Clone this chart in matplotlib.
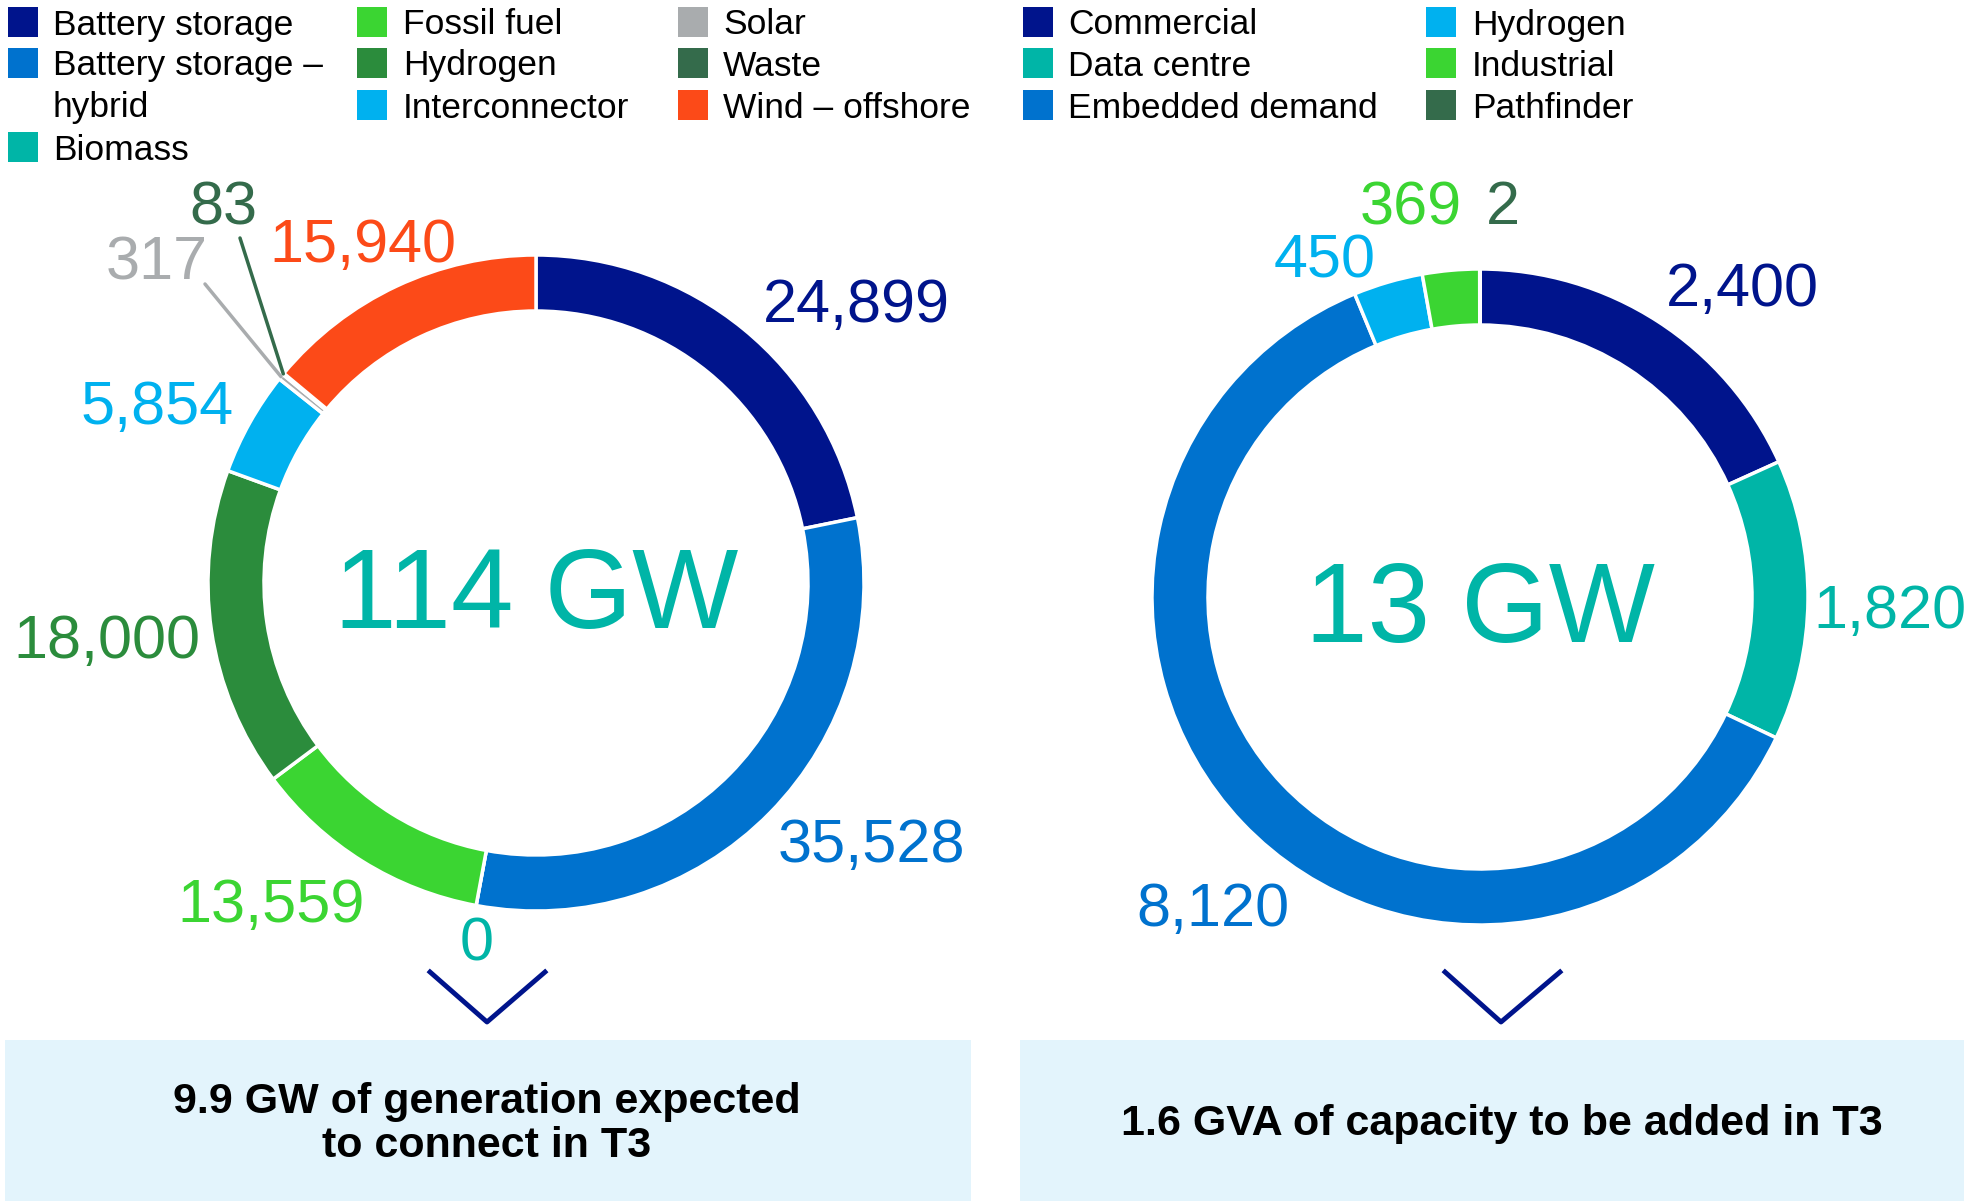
import numpy as np
import matplotlib.pyplot as plt
from matplotlib.patches import Rectangle

plt.rcParams['font.family'] = ['Liberation Sans', 'DejaVu Sans']

W, H = 1965, 1201

# generation by technology (MW)
gen_labels = ["Battery storage", "Battery storage –\nhybrid", "Biomass", "Fossil fuel",
              "Hydrogen", "Interconnector", "Solar", "Waste", "Wind – offshore"]
gen_values = [24899, 35528, 0, 13559, 18000, 5854, 317, 83, 15940]
gen_total = "114 GW"
gen_note = "9.9 GW of generation expected\nto connect in T3"

# demand by type (MW)
dem_labels = ["Commercial", "Data centre", "Embedded demand", "Hydrogen", "Industrial", "Pathfinder"]
dem_values = [2400, 1820, 8120, 450, 369, 2]
dem_total = "13 GW"
dem_note = "1.6 GVA of capacity to be added in T3"

NAVY, BLUE, TEAL = '#00148C', '#0072CE', '#00B5A7'
LIME, GREEN, SKY = '#3BD532', '#2B8C3C', '#00B1EF'
GREY, DKGREEN, ORANGE = '#A9ACAE', '#346B4B', '#FC4A18'
gen_colors = [NAVY, BLUE, TEAL, LIME, GREEN, SKY, GREY, DKGREEN, ORANGE]
dem_colors = [NAVY, TEAL, BLUE, SKY, LIME, DKGREEN]

# layout, in pixels from top-left
gen_center, dem_center = (536, 583), (1480, 597)
R, RING = 328, 56
gen_label_pos = [(856, 306), (871, 847), (477, 945), (271, 907), (107, 642),
                 (157, 409), (157, 264), (223, 209), (363, 246)]
dem_label_pos = [(1742, 291), (1890, 612), (1213, 910), (1325, 262), (1411, 209), (1503, 209)]
leader_start = {6: (205, 284), 7: (240, 238)}


def Y(y):
    return H - y


fig = plt.figure(figsize=(W / 100, H / 100), dpi=100)
ax = fig.add_axes([0, 0, 1, 1])


def donut(values, colors, center, label_pos, total):
    cx, cy = center
    wedges, _ = ax.pie(values, colors=colors, center=(cx, Y(cy)), radius=R,
                       startangle=90, counterclock=False,
                       wedgeprops=dict(width=RING, edgecolor='white', linewidth=2.5))
    for v, c, (lx, ly) in zip(values, colors, label_pos):
        ax.text(lx, Y(ly), f"{v:,}", color=c, fontsize=44, ha='center', va='center')
    ax.text(cx, Y(cy + 16), total, color=TEAL, fontsize=81, ha='center', va='center')
    return wedges


gw = donut(gen_values, gen_colors, gen_center, gen_label_pos, gen_total)
donut(dem_values, dem_colors, dem_center, dem_label_pos, dem_total)

for i, (sx, sy) in leader_start.items():
    w = gw[i]
    mid = np.deg2rad((w.theta1 + w.theta2) / 2)
    ex = gen_center[0] + R * np.cos(mid)
    ey = Y(gen_center[1]) + R * np.sin(mid)
    ax.plot([sx, ex], [Y(sy), ey], color=gen_colors[i], lw=2.5, solid_capstyle='round')


def legend(labels, colors, cols, x_sq, x_txt):
    rows = [22, 63, 105, 147]
    for col, idx in enumerate(cols):
        r = 0
        for i in idx:
            yc = rows[r]
            ax.add_patch(Rectangle((x_sq[col], Y(yc + 15)), 30, 30, color=colors[i], lw=0))
            for line in labels[i].split("\n"):
                ax.text(x_txt[col], Y(rows[r] + 3), line, fontsize=25.5, ha='left', va='center')
                r += 1


legend(gen_labels, gen_colors, [[0, 1, 2], [3, 4, 5], [6, 7, 8]], [8, 357, 678], [53, 403, 723])
legend(dem_labels, dem_colors, [[0, 1, 2], [3, 4, 5]], [1023, 1426], [1068, 1472])

# chevrons and notes
for x0, xm, x1 in [(430, 487, 545), (1445, 1501, 1560)]:
    ax.plot([x0, xm, x1], [Y(972), Y(1022), Y(972)], color=NAVY, lw=3.5)

ax.add_patch(Rectangle((5, 0), 966, Y(1040), color='#E3F4FC', lw=0))
ax.add_patch(Rectangle((1020, 0), 945, Y(1040), color='#E3F4FC', lw=0))
ax.text(487, Y(1124), gen_note, fontsize=31, fontweight='bold', ha='center', va='center',
        linespacing=1.1)
ax.text(1502, Y(1124), dem_note, fontsize=31, fontweight='bold', ha='center', va='center')

ax.set_xlim(0, W)
ax.set_ylim(0, H)
ax.set_aspect('auto')
ax.axis('off')

fig.savefig('out.png', dpi=100)
